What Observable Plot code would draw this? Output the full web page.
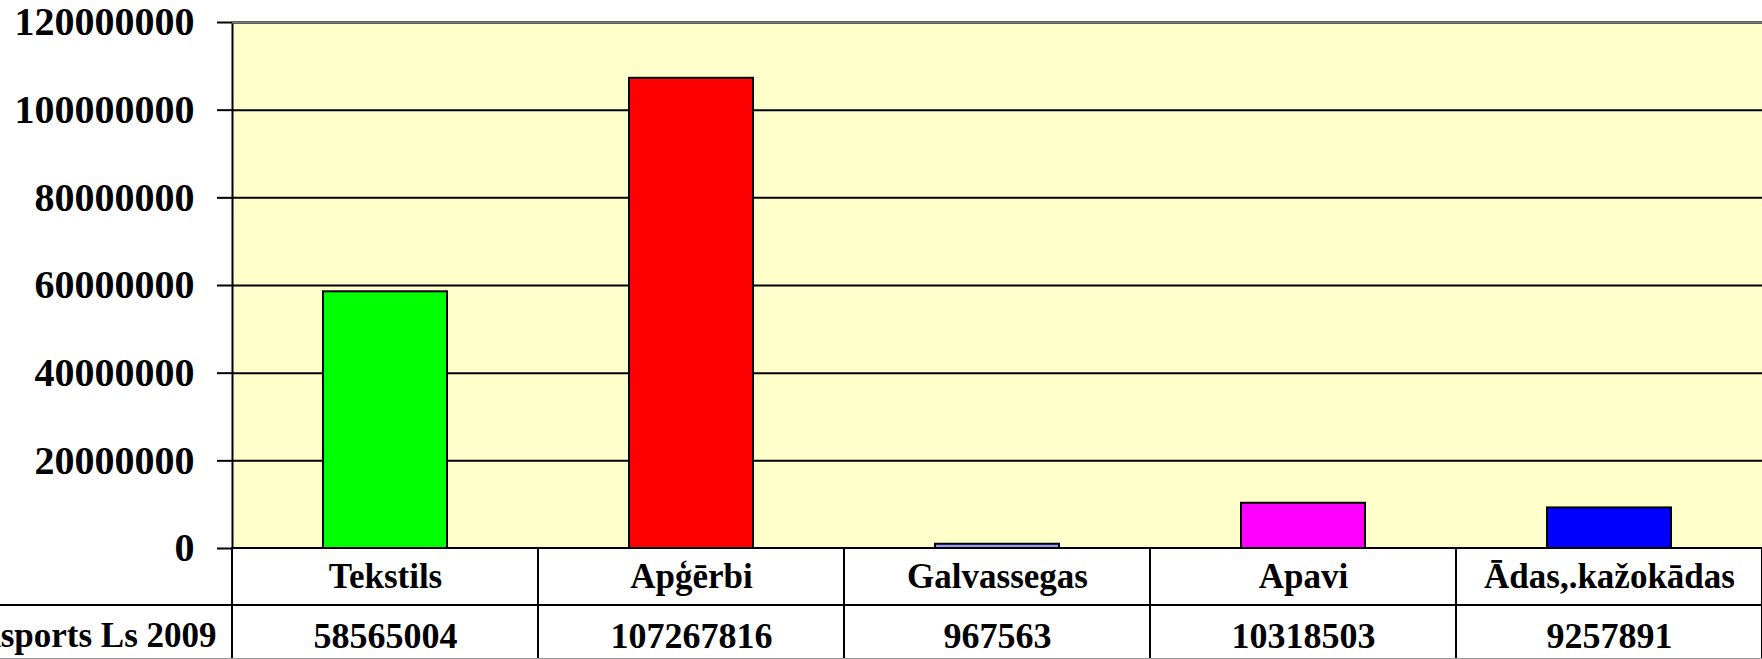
<!DOCTYPE html>
<html>
<head>
<meta charset="utf-8">
<script src="https://cdn.jsdelivr.net/npm/d3@7"></script>
<script src="https://cdn.jsdelivr.net/npm/@observablehq/plot@0.6"></script>
<style>
  html, body { margin: 0; padding: 0; background: #ffffff; overflow: hidden; }
  #wrap { position: relative; width: 1762px; height: 658px; overflow: hidden; border-bottom: 1px solid #9a9a9a; background: #ffffff; }
  #wrap svg { position: absolute; left: 0; }
</style>
</head>
<body>
<div id="wrap"></div>
<script>
// ---- data ----
const categories = ["Tekstils", "Apģērbi", "Galvassegas", "Apavi", "Ādas,.kažokādas"];
const values = [58565004, 107267816, 967563, 10318503, 9257891];
const barColors = ["#00FF00", "#FF0000", "#9999FF", "#FF00FF", "#0000FF"];
const rowLabel = "Eksports Ls 2009";
const yTicks = [0, 20000000, 40000000, 60000000, 80000000, 100000000, 120000000];
const tableRows = ["galva", "vertiba"];

// ---- derived tables ----
const barData = categories.map((c, i) => ({category: c, value: values[i]}));
const headerCells = categories.map(c => ({col: c, row: tableRows[0], text: c}));
const valueCells = categories.map((c, i) => ({col: c, row: tableRows[1], text: String(values[i])}));
const labelCell = [{col: rowLabel, row: tableRows[1], text: rowLabel}];

// ---- layout ----
const W = 1764;
const left = 232;
const right = 1762;
const step = (right - left) / categories.length;
const font = "'Liberation Serif', 'Times New Roman', Times, serif";

const chart = Plot.plot({
  width: W,
  height: 660,
  marginLeft: left,
  marginRight: 0,
  marginTop: 22,
  marginBottom: 112,
  x: {type: "band", domain: categories, range: [left, right], padding: 0, round: false, axis: null},
  y: {domain: [0, 120000000], axis: null, label: null},
  color: {domain: categories, range: barColors},
  style: {fontFamily: font, maxWidth: "none", background: "transparent", overflow: "visible"},
  marks: [
    Plot.frame({fill: "#FFFFCC", stroke: "black", strokeWidth: 2}),
    Plot.ruleY(yTicks, {stroke: "black", strokeWidth: 2}),
    Plot.ruleY([yTicks[yTicks.length - 1]], {stroke: "#808080", strokeWidth: 2}),
    Plot.barY(barData, {x: "category", y: "value", fill: "category", stroke: "black", strokeWidth: 2, insetLeft: 91, insetRight: 91}),
    Plot.axisY({ticks: yTicks, tickFormat: "d", tickSize: 15, tickPadding: 23, fontSize: 40, fontWeight: "bold", strokeWidth: 2, label: null, fill: "black", stroke: "black"})
  ]
});
chart.style.top = "0px";

const table = Plot.plot({
  width: W,
  height: 114,
  margin: 0,
  x: {type: "band", domain: [rowLabel, ...categories], range: [left - step, right], padding: 0, round: false, axis: null},
  y: {type: "band", domain: tableRows, range: [0, 114], padding: 0, round: false, axis: null},
  style: {fontFamily: font, maxWidth: "none", background: "none", overflow: "visible"},
  marks: [
    Plot.cell([...headerCells, ...valueCells, ...labelCell], {x: "col", y: "row", fill: "white", stroke: "black", strokeWidth: 2, inset: 0}),
    Plot.text(headerCells, {x: "col", y: "row", text: "text", fontSize: 35, fontWeight: "bold", fill: "black"}),
    Plot.text(valueCells, {x: "col", y: "row", text: "text", fontSize: 36, fontWeight: "bold", fill: "black", dy: 2}),
    Plot.text(labelCell, {x: "col", y: "row", text: "text", fontSize: 35, fontWeight: "bold", fill: "black", textAnchor: "end", dx: step / 2 - 16, dy: 2})
  ]
});
table.style.top = "548px";

const wrap = document.getElementById("wrap");
wrap.appendChild(chart);
wrap.appendChild(table);
</script>
</body>
</html>
